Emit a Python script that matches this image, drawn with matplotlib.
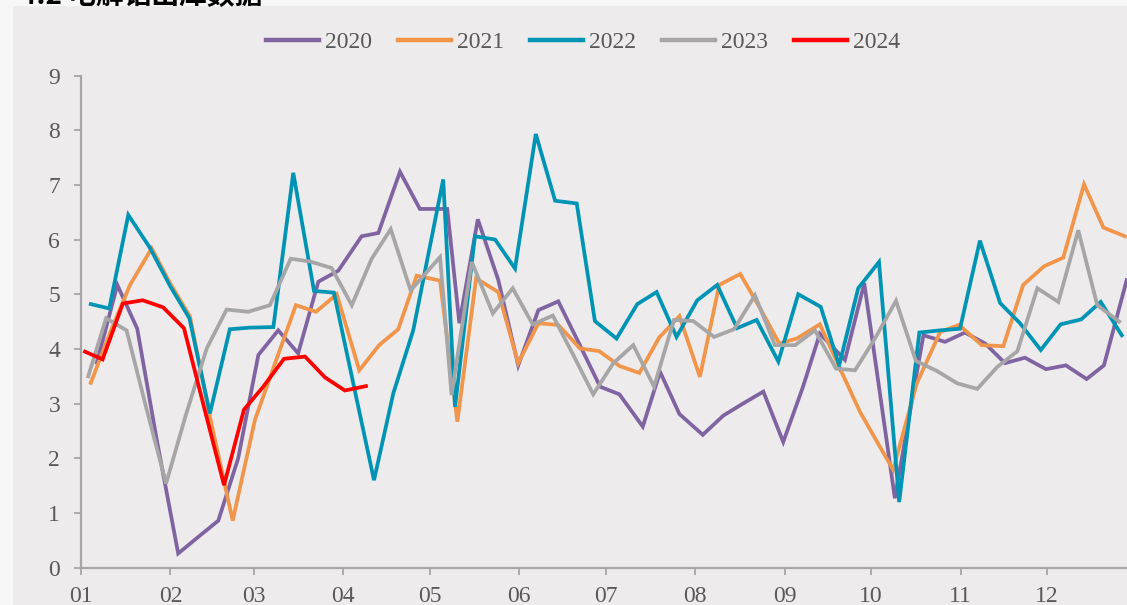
import matplotlib
matplotlib.use("Agg")
import matplotlib.pyplot as plt
from matplotlib.patches import Rectangle

# day of year (2020 calendar) and weekly values for each year
days_2020 = [5.5, 12.6, 19.5, 26.4, 33.7, 40.6, 47.6, 54.5, 61.5, 68.4, 75.3, 82.3, 89.2, 97.3,
             103.1, 110.6, 117.5, 127, 131.2, 137.6, 144.7, 151.6, 158.6, 165.5, 172.7, 180,
             186.7, 194.8, 200.8, 207.5, 215.6, 222.7, 229.5, 236.6, 243.5, 250.3, 256.2, 264.9,
             271.6, 282.2, 292.1, 299.6, 306.5, 313.5, 320.4, 327.3, 334.6, 341.5, 348.7, 354.7, 362.6]
vals_2020 = [3.75, 5.17, 4.37, 2.3, 0.26, 0.56, 0.86, 2.0, 3.89, 4.34, 3.92, 5.23, 5.43, 6.06,
             6.12, 7.24, 6.56, 6.56, 4.47, 6.37, 5.26, 3.70, 4.71, 4.87, 4.1, 3.31,
             3.17, 2.58, 3.58, 2.81, 2.43, 2.78, 3.0, 3.22, 2.30, 3.3, 4.28, 3.80,
             5.20, 1.27, 4.25, 4.13, 4.30, 4.10, 3.74, 3.84, 3.63, 3.70, 3.45, 3.70, 5.26]

days_2021 = [3.4, 10.1, 17.0, 24.5, 30.9, 37.8, 44.7, 52.6, 60.3, 67.3, 74.5, 81.5, 88.7, 96.5,
             103.4, 110.0, 116.4, 124.5, 130.5, 137.0, 144.7, 151.6, 158.6, 165.5, 173.0, 179.7,
             186.7, 193.6, 200.5, 207.5, 214.6, 221.3, 228.6, 235.4, 242.1, 248.2, 256.2, 263.2,
             270.1, 281.6, 289.8, 297.9, 304.5, 312.3, 319.8, 326.7, 333.9, 340.6, 347.8, 354.5, 362.0]
vals_2021 = [3.38, 4.3, 5.17, 5.84, 5.2, 4.59, 2.76, 0.86, 2.70, 3.74, 4.80, 4.68, 5.0, 3.61,
             4.07, 4.36, 5.34, 5.25, 2.67, 5.29, 5.04, 3.74, 4.47, 4.44, 4.01, 3.96,
             3.69, 3.56, 4.21, 4.60, 3.49, 5.17, 5.37, 4.75, 4.10, 4.19, 4.45, 3.64,
             2.85, 1.79, 3.37, 4.31, 4.44, 4.07, 4.05, 5.17, 5.51, 5.67, 7.01, 6.22, 6.06]

days_2022 = [3.4, 9.8, 16.4, 23.9, 30.9, 37.6, 44.7, 51.6, 58.6, 66.7, 73.6, 80.8, 87.7, 94.7,
             101.6, 108.3, 115.2, 125.6, 129.7, 136.6, 143.6, 150.5, 157.7, 164.4, 171.9, 178.2,
             185.7, 192.9, 199.6, 206.5, 213.7, 220.6, 227.5, 234.3, 241.8, 248.7, 256.5, 262.9,
             269.5, 276.7, 283.7, 290.7, 297.9, 304.8, 311.7, 318.7, 325.6, 332.8, 339.7, 346.8,
             353.6, 360.9]
vals_2022 = [4.82, 4.74, 6.45, 5.85, 5.15, 4.56, 2.82, 4.36, 4.39, 4.40, 7.22, 5.06, 5.03, 3.3,
             1.60, 3.19, 4.34, 7.10, 2.94, 6.06, 6.0, 5.47, 7.93, 6.71, 6.66, 4.51,
             4.19, 4.82, 5.04, 4.22, 4.89, 5.17, 4.38, 4.53, 3.77, 5.0, 4.77, 3.70,
             5.11, 5.59, 1.20, 4.30, 4.34, 4.37, 5.98, 4.84, 4.47, 3.98, 4.45, 4.54,
             4.86, 4.25]

days_2023 = [2.5, 8.7, 15.8, 22.5, 29.5, 36.4, 43.6, 50.5, 58.0, 65.5, 72.7, 79.4, 86.9, 93.9,
             100.8, 107.4, 114.3, 124.5, 128.5, 135.5, 142.8, 149.7, 156.6, 163.6, 170.6, 177.6,
             184.6, 191.5, 198.7, 205.6, 212.3, 219.5, 226.4, 233.7, 240.6, 247.6, 254.5, 261.8,
             268.4, 275.4, 282.6, 289.5, 296.7, 303.9, 310.8, 317.7, 324.7, 331.6, 338.9, 345.8,
             352.4, 360.0]
vals_2023 = [3.50, 4.56, 4.34, 2.95, 1.54, 2.8, 4.01, 4.72, 4.68, 4.80, 5.65, 5.60, 5.48, 4.80,
             5.65, 6.19, 5.07, 5.68, 3.16, 5.59, 4.65, 5.11, 4.45, 4.61, 3.9, 3.17,
             3.74, 4.07, 3.31, 4.53, 4.51, 4.22, 4.36, 4.98, 4.07, 4.07, 4.34, 3.64,
             3.61, 4.2, 4.88, 3.78, 3.60, 3.37, 3.27, 3.67, 3.96, 5.11, 4.86, 6.17,
             4.80, 4.50]

days_2024 = [1.4, 7.5, 14.5, 21.4, 28.5, 35.7, 42.6, 49.6, 56.5, 63.2, 70.4, 77.7, 84.6, 91.5, 98.8]
vals_2024 = [3.95, 3.81, 4.83, 4.89, 4.76, 4.38, 2.95, 1.51, 2.89, 3.31, 3.82, 3.86, 3.48, 3.24, 3.32]

years = ["2020", "2021", "2022", "2023", "2024"]
colors = ["#8064A2", "#F0954A", "#0094B4", "#A6A6A6", "#FF0000"]

# month starts on the 2020 calendar
month_days = [0, 31, 60, 91, 121, 152, 182, 213, 244, 274, 305, 335]
month_labels = ["01", "02", "03", "04", "05", "06", "07", "08", "09", "10", "11", "12"]

panel = "#EDEBEC"
tick_gray = "#A6A6A6"
text_gray = "#595959"

fig = plt.figure(figsize=(11.27, 6.05), dpi=100, facecolor="#F7F7F7")

# gray panel behind the chart
fig.patches.append(Rectangle((13 / 1127, 0), 1, 1 - 6 / 605, transform=fig.transFigure,
                             facecolor=panel, edgecolor="none", zorder=-10))

# title, mostly cut off at the top of the picture (as in the source screenshot)
fig.text(20 / 1127, 1 - 5 / 605, "4.2 电解铝出库数据", fontsize=20, fontweight="bold",
         family=["Noto Sans CJK SC", "DejaVu Sans"], color="black", va="baseline")

ax = fig.add_axes([81 / 1127, (605 - 567.7) / 605, 1 - 81 / 1127, (567.7 - 75.5) / 605])
ax.set_facecolor(panel)

all_days = [days_2020, days_2021, days_2022, days_2023, days_2024]
all_vals = [vals_2020, vals_2021, vals_2022, vals_2023, vals_2024]
for d, v, name, c in zip(all_days, all_vals, years, colors):
    ax.plot(d, v, color=c, lw=2.7, label=name, solid_joinstyle="miter")

ax.set_xlim(0, 362.7)
ax.set_ylim(0, 9)
ax.set_xticks(month_days)
ax.set_xticklabels(month_labels)
ax.set_yticks(range(10))

for s in ["top", "right"]:
    ax.spines[s].set_visible(False)
for s in ["left", "bottom"]:
    ax.spines[s].set_color(tick_gray)
    ax.spines[s].set_linewidth(1.6)

ax.tick_params(axis="both", colors=tick_gray, width=1.3, length=5, labelcolor=text_gray,
               labelsize=17)
ax.tick_params(axis="x", pad=8)
ax.tick_params(axis="y", pad=10)
for lab in ax.get_xticklabels() + ax.get_yticklabels():
    lab.set_family("Liberation Serif")

leg = fig.legend(loc="center", bbox_to_anchor=(583 / 1127, 1 - 42 / 605), ncol=5,
                 frameon=False, handlelength=2.25, handletextpad=0.25, columnspacing=1.1,
                 prop={"family": "Liberation Serif", "size": 17})
for t in leg.get_texts():
    t.set_color(text_gray)
for h in leg.get_lines():
    h.set_linewidth(3.2)

fig.savefig("out.png", dpi=100, facecolor=fig.get_facecolor())
